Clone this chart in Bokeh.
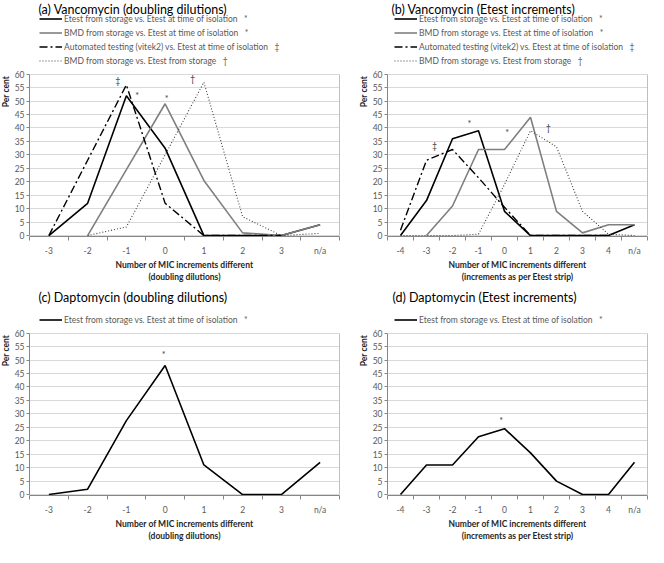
import math
from bokeh.plotting import figure
from bokeh.models import Legend, LegendItem, Label, FixedTicker, Range1d, LinearAxis
from bokeh.layouts import column, row
from bokeh.embed import file_html
from bokeh.resources import INLINE

NaN = float("nan")

# ---------------- data ----------------
cats_dd = ["-3", "-2", "-1", "0", "1", "2", "3", "n/a"]
cats_et = ["-4", "-3", "-2", "-1", "0", "1", "2", "3", "4", "n/a"]

# (a) Vancomycin, doubling dilutions
a_etest = [0, 12, 52, 32.5, 0, 0, 0, 4]
a_bmd = [NaN, 0, 24.5, 49, 20.5, 1, 0, 4]
a_vitek = [0, 28, 56, 12, 0, 0, 0, NaN]
a_bmd_storage = [NaN, 0, 3.2, 30, 57, 7, 0, 0.8]

# (b) Vancomycin, Etest increments
b_etest = [0, 13, 36, 39, 9, 0, 0, 0, 0, 4]
b_bmd = [NaN, 0, 11, 32, 32, 44, 9, 1, 4, 4]
b_vitek = [2, 28, 32, 21.5, 10.5, 0, 0, 0, 0, NaN]
b_bmd_storage = [0, 0, 0, 0.5, 19, 39, 33, 9, 0.5, 0]

# (c) Daptomycin, doubling dilutions
c_etest = [0, 2, 27.5, 48, 11, 0, 0, 12]

# (d) Daptomycin, Etest increments
d_etest = [0, 11, 11, 21.5, 24.5, 15.5, 5, 0, 0, 12]

y_ticks = list(range(0, 61, 5))

lab_etest = "Etest from storage vs. Etest at time of isolation"
lab_bmd = "BMD from storage vs. Etest at time of isolation"
lab_vitek = "Automated testing (vitek2) vs. Etest at time of isolation"
lab_bmds = "BMD from storage vs. Etest from storage"

# significance markers: (offset from category "0", percent, symbol)
a_marks = [(-1.22, 57.5, "\u2021"), (-0.72, 52, "*"), (0.04, 51, "*"), (0.71, 58.5, "\u2020")]
b_marks = [(-2.69, 33.5, "\u2021"), (-1.35, 41.5, "*"), (0.1, 38.5, "*"), (1.69, 40, "\u2020")]
c_marks = [(-0.04, 52, "*")]
d_marks = [(-0.13, 27.5, "*")]

FONT = "Lato"
GREY_TXT = "#595959"
AXIS_COL = "#868686"

STYLES = {
    "etest": dict(line_color="#000000", line_width=1.6),
    "bmd": dict(line_color="#7f7f7f", line_width=1.6),
    "vitek": dict(line_color="#000000", line_width=1.4, line_dash="8 3 2 3"),
    "bmds": dict(line_color="#404040", line_width=1.1, line_dash="1 2"),
}


def blank_fig(width, height):
    f = figure(width=width, height=height, output_backend="svg", toolbar_location=None,
               x_range=Range1d(0, width), y_range=Range1d(0, height),
               x_axis_type=None, y_axis_type=None,
               min_border_left=0, min_border_right=0, min_border_top=0, min_border_bottom=0)
    f.outline_line_color = None
    f.xgrid.visible = False
    f.ygrid.visible = False
    return f


def make_header(width, height, title, series, title_x, leg_x):
    """Title and legend strip above a panel (keys / labels only)."""
    h = blank_fig(width, height)
    h.add_layout(Label(x=title_x, y=height - 1, text=title, text_font=FONT,
                       text_font_size="12.5px", text_color="#000000",
                       text_align="left", text_baseline="top"))
    items = []
    for key, lab, sym in series:
        r = h.line(x=[NaN], y=[NaN], **STYLES[key])
        items.append(LegendItem(label=lab + "   " + sym, renderers=[r]))
    leg = Legend(items=items, location=(leg_x, 1), orientation="vertical",
                 label_text_font=FONT, label_text_font_size="8.5px",
                 label_text_color=GREY_TXT, label_height=11, glyph_height=11,
                 glyph_width=23, label_standoff=2, spacing=3, padding=0,
                 margin=0, border_line_color=None, background_fill_alpha=0)
    h.add_layout(leg, "center")
    return h


def make_ylabel(width, height, lab_x, top_px):
    s = blank_fig(width, height)
    s.add_layout(Label(x=lab_x, y=height - top_px, text="Per cent", angle=math.pi / 2,
                       text_font=FONT, text_font_size="8.5px", text_font_style="bold",
                       text_color="#262626", text_align="right", text_baseline="middle"))
    return s


def make_panel(cats, series, xlabel, marks, width, height, bl, br, bt, bb):
    n = len(cats)
    xs = list(range(n))
    p = figure(width=width, height=height, output_backend="svg", toolbar_location=None,
               x_range=Range1d(-0.5, n - 0.5), y_range=Range1d(-0.35, 61),
               min_border_left=bl, min_border_right=br, min_border_top=bt,
               min_border_bottom=bb)
    p.background_fill_color = "white"
    p.outline_line_color = None

    p.xaxis.ticker = FixedTicker(ticks=xs, minor_ticks=[i - 0.5 for i in range(n + 1)])
    p.xaxis.major_label_overrides = {i: c for i, c in enumerate(cats)}
    p.xaxis.major_tick_line_color = None
    p.xaxis.minor_tick_line_color = AXIS_COL
    p.xaxis.minor_tick_out = 4
    p.xaxis.minor_tick_in = 0
    p.xaxis.axis_line_color = AXIS_COL
    p.xaxis.axis_label = xlabel
    p.xaxis.axis_label_text_font = FONT
    p.xaxis.axis_label_text_font_style = "bold"
    p.xaxis.axis_label_text_font_size = "8.5px"
    p.xaxis.axis_label_text_color = "#262626"
    p.xaxis.axis_label_standoff = 1
    p.xaxis.major_label_text_font = FONT
    p.xaxis.major_label_text_font_size = "8.5px"
    p.xaxis.major_label_text_color = GREY_TXT
    p.xaxis.major_label_standoff = 3

    p.yaxis.ticker = FixedTicker(ticks=y_ticks)
    p.yaxis.bounds = (0, 60)
    p.yaxis.minor_tick_line_color = None
    p.yaxis.major_tick_line_color = AXIS_COL
    p.yaxis.major_tick_out = 3
    p.yaxis.major_tick_in = 0
    p.yaxis.axis_line_color = AXIS_COL
    p.yaxis.major_label_text_font = FONT
    p.yaxis.major_label_text_font_size = "8.5px"
    p.yaxis.major_label_text_color = GREY_TXT
    p.yaxis.major_label_standoff = 2

    # right-hand border of the plot area (0..60)
    rax = LinearAxis(bounds=(0, 60), ticker=FixedTicker(ticks=[]),
                     axis_line_color="#bfbfbf", major_tick_line_color=None,
                     minor_tick_line_color=None, major_label_text_font_size="0px")
    p.add_layout(rax, "right")

    p.xgrid.grid_line_color = None
    p.ygrid.grid_line_color = "#d9d9d9"
    p.ygrid.grid_line_width = 1

    for key, ys in series:
        p.line(xs, ys, **STYLES[key])

    x0 = cats.index("0")
    for (mx, my, s) in marks:
        p.add_layout(Label(x=x0 + mx, y=my, text=s,
                           text_font=FONT, text_font_size="9px", text_color="#404040",
                           text_align="center", text_baseline="middle"))
    return p


xl_dd = "Number of MIC increments different\n(doubling dilutions)"
xl_et = "Number of MIC increments different\n(increments as per Etest strip)"

keys4 = [("etest", lab_etest, "*"), ("bmd", lab_bmd, "*"),
         ("vitek", lab_vitek, "\u2021"), ("bmds", lab_bmds, "\u2020")]
keys1 = [("etest", lab_etest, "*")]

WA, WB = 345, 305
SA, SB = 11, 24            # widths of the "Per cent" strips
H1_HEAD, H1_MAIN = 67, 221
H2_HEAD, H2_MAIN = 38, 221
TOP_60 = 6                 # distance of the 60 % line below the panel top


def build(cats, series, marks, keys, title, xlabel, W, S, lab_x, head_h, main_h,
          title_x, leg_x, br):
    head = make_header(W, head_h, title, keys, title_x, leg_x)
    ylab = make_ylabel(S, main_h, lab_x, TOP_60)
    main = make_panel(cats, series, xlabel, marks, W - S, main_h, 16, br, 4, 52)
    return column(head, row(ylab, main))


ga = build(cats_dd, [("etest", a_etest), ("bmd", a_bmd), ("vitek", a_vitek),
                     ("bmds", a_bmd_storage)], a_marks, keys4,
           "(a)  Vancomycin (doubling dilutions)", xl_dd, WA, SA, 5.5,
           H1_HEAD, H1_MAIN, 38, 39, 6)
gb = build(cats_et, [("etest", b_etest), ("bmd", b_bmd), ("vitek", b_vitek),
                     ("bmds", b_bmd_storage)], b_marks, keys4,
           "(b) Vancomycin (Etest increments)", xl_et, WB, SB, 18.5,
           H1_HEAD, H1_MAIN, 46, 49, 3)
gc = build(cats_dd, [("etest", c_etest)], c_marks, keys1,
           "(c) Daptomycin (doubling dilutions)", xl_dd, WA, SA, 5.5,
           H2_HEAD, H2_MAIN, 38, 39, 6)
gd = build(cats_et, [("etest", d_etest)], d_marks, keys1,
           "(d) Daptomycin (Etest increments)", xl_et, WB, SB, 18.5,
           H2_HEAD, H2_MAIN, 47, 49, 3)

layout = column(row(ga, gb), row(gc, gd))
open("out.html", "w").write(file_html(layout, INLINE))
